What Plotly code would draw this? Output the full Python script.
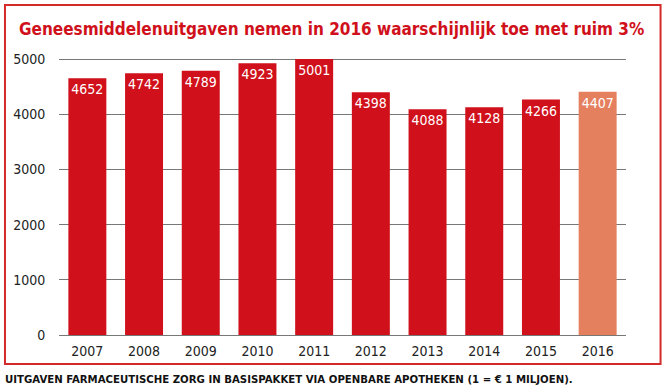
import plotly.graph_objects as go

years = ["2007", "2008", "2009", "2010", "2011", "2012", "2013", "2014", "2015", "2016"]
values = [4652, 4742, 4789, 4923, 5001, 4398, 4088, 4128, 4266, 4407]
colors = ["#d0111b"] * 9 + ["#e5805f"]
y_ticks = [0, 1000, 2000, 3000, 4000, 5000]

title_text = "Geneesmiddelenuitgaven nemen in 2016 waarschijnlijk toe met ruim 3%"
caption_text = "UITGAVEN FARMACEUTISCHE ZORG IN BASISPAKKET VIA OPENBARE APOTHEKEN (1 = € 1 MILJOEN)."

FONT = "DejaVu Sans Condensed, Liberation Sans Narrow, sans-serif"

fig = go.Figure(go.Bar(
    x=years, y=values,
    marker=dict(color=colors, line=dict(width=0)),
    text=[str(v) for v in values],
    textposition="inside",
    insidetextanchor="end",
    textangle=0,
    textfont=dict(color="white", size=14, family=FONT),
))

W, H = 666, 390
left, right, top, bottom = 58.6, 626.4, 57, 335

fig.update_layout(
    width=W, height=H,
    margin=dict(l=left, r=W - right, t=top, b=H - bottom),
    paper_bgcolor="white", plot_bgcolor="white",
    bargap=0.33,
    showlegend=False,
    uniformtext=dict(minsize=14, mode="show"),
    font=dict(family=FONT, color="#222"),
    xaxis=dict(
        type="category", showgrid=False, showline=True, linecolor="#777", linewidth=1,
        tickfont=dict(size=14, color="#222", family=FONT), ticks="outside", ticklen=3,
        tickcolor="rgba(0,0,0,0)", fixedrange=True,
    ),
    yaxis=dict(
        range=[0, 5000 + 2 / 55 * 1000], tickvals=y_ticks, ticktext=[str(t) for t in y_ticks],
        showgrid=True, gridcolor="#777", gridwidth=1, zeroline=False, showline=False,
        tickfont=dict(size=14, color="#222", family=FONT), ticks="outside", ticklen=10,
        tickcolor="rgba(0,0,0,0)", fixedrange=True,
    ),
    shapes=[dict(type="rect", xref="paper", yref="paper",
                 x0=(4.5 - left) / (right - left), x1=(661 - left) / (right - left),
                 y0=(bottom - 364) / (bottom - top), y1=(bottom - 5) / (bottom - top),
                 line=dict(color="#d42a2a", width=2), fillcolor="rgba(0,0,0,0)", layer="below")],
    annotations=[
        dict(text="<b>" + title_text + "</b>", xref="paper", yref="paper",
             x=(17 - left) / (right - left), y=(bottom - 29) / (bottom - top),
             xanchor="left", yanchor="middle", showarrow=False,
             font=dict(size=17, color="#d0111b", family=FONT)),
        dict(text="<b>" + caption_text + "</b>", xref="paper", yref="paper",
             x=(3 - left) / (right - left), y=(bottom - 380) / (bottom - top),
             xanchor="left", yanchor="middle", showarrow=False,
             font=dict(size=11.3, color="#111", family=FONT)),
    ],
)

fig.write_html("out.html", config={"displayModeBar": False},
               post_script="document.body.style.margin='0';document.body.style.overflow='hidden';")
